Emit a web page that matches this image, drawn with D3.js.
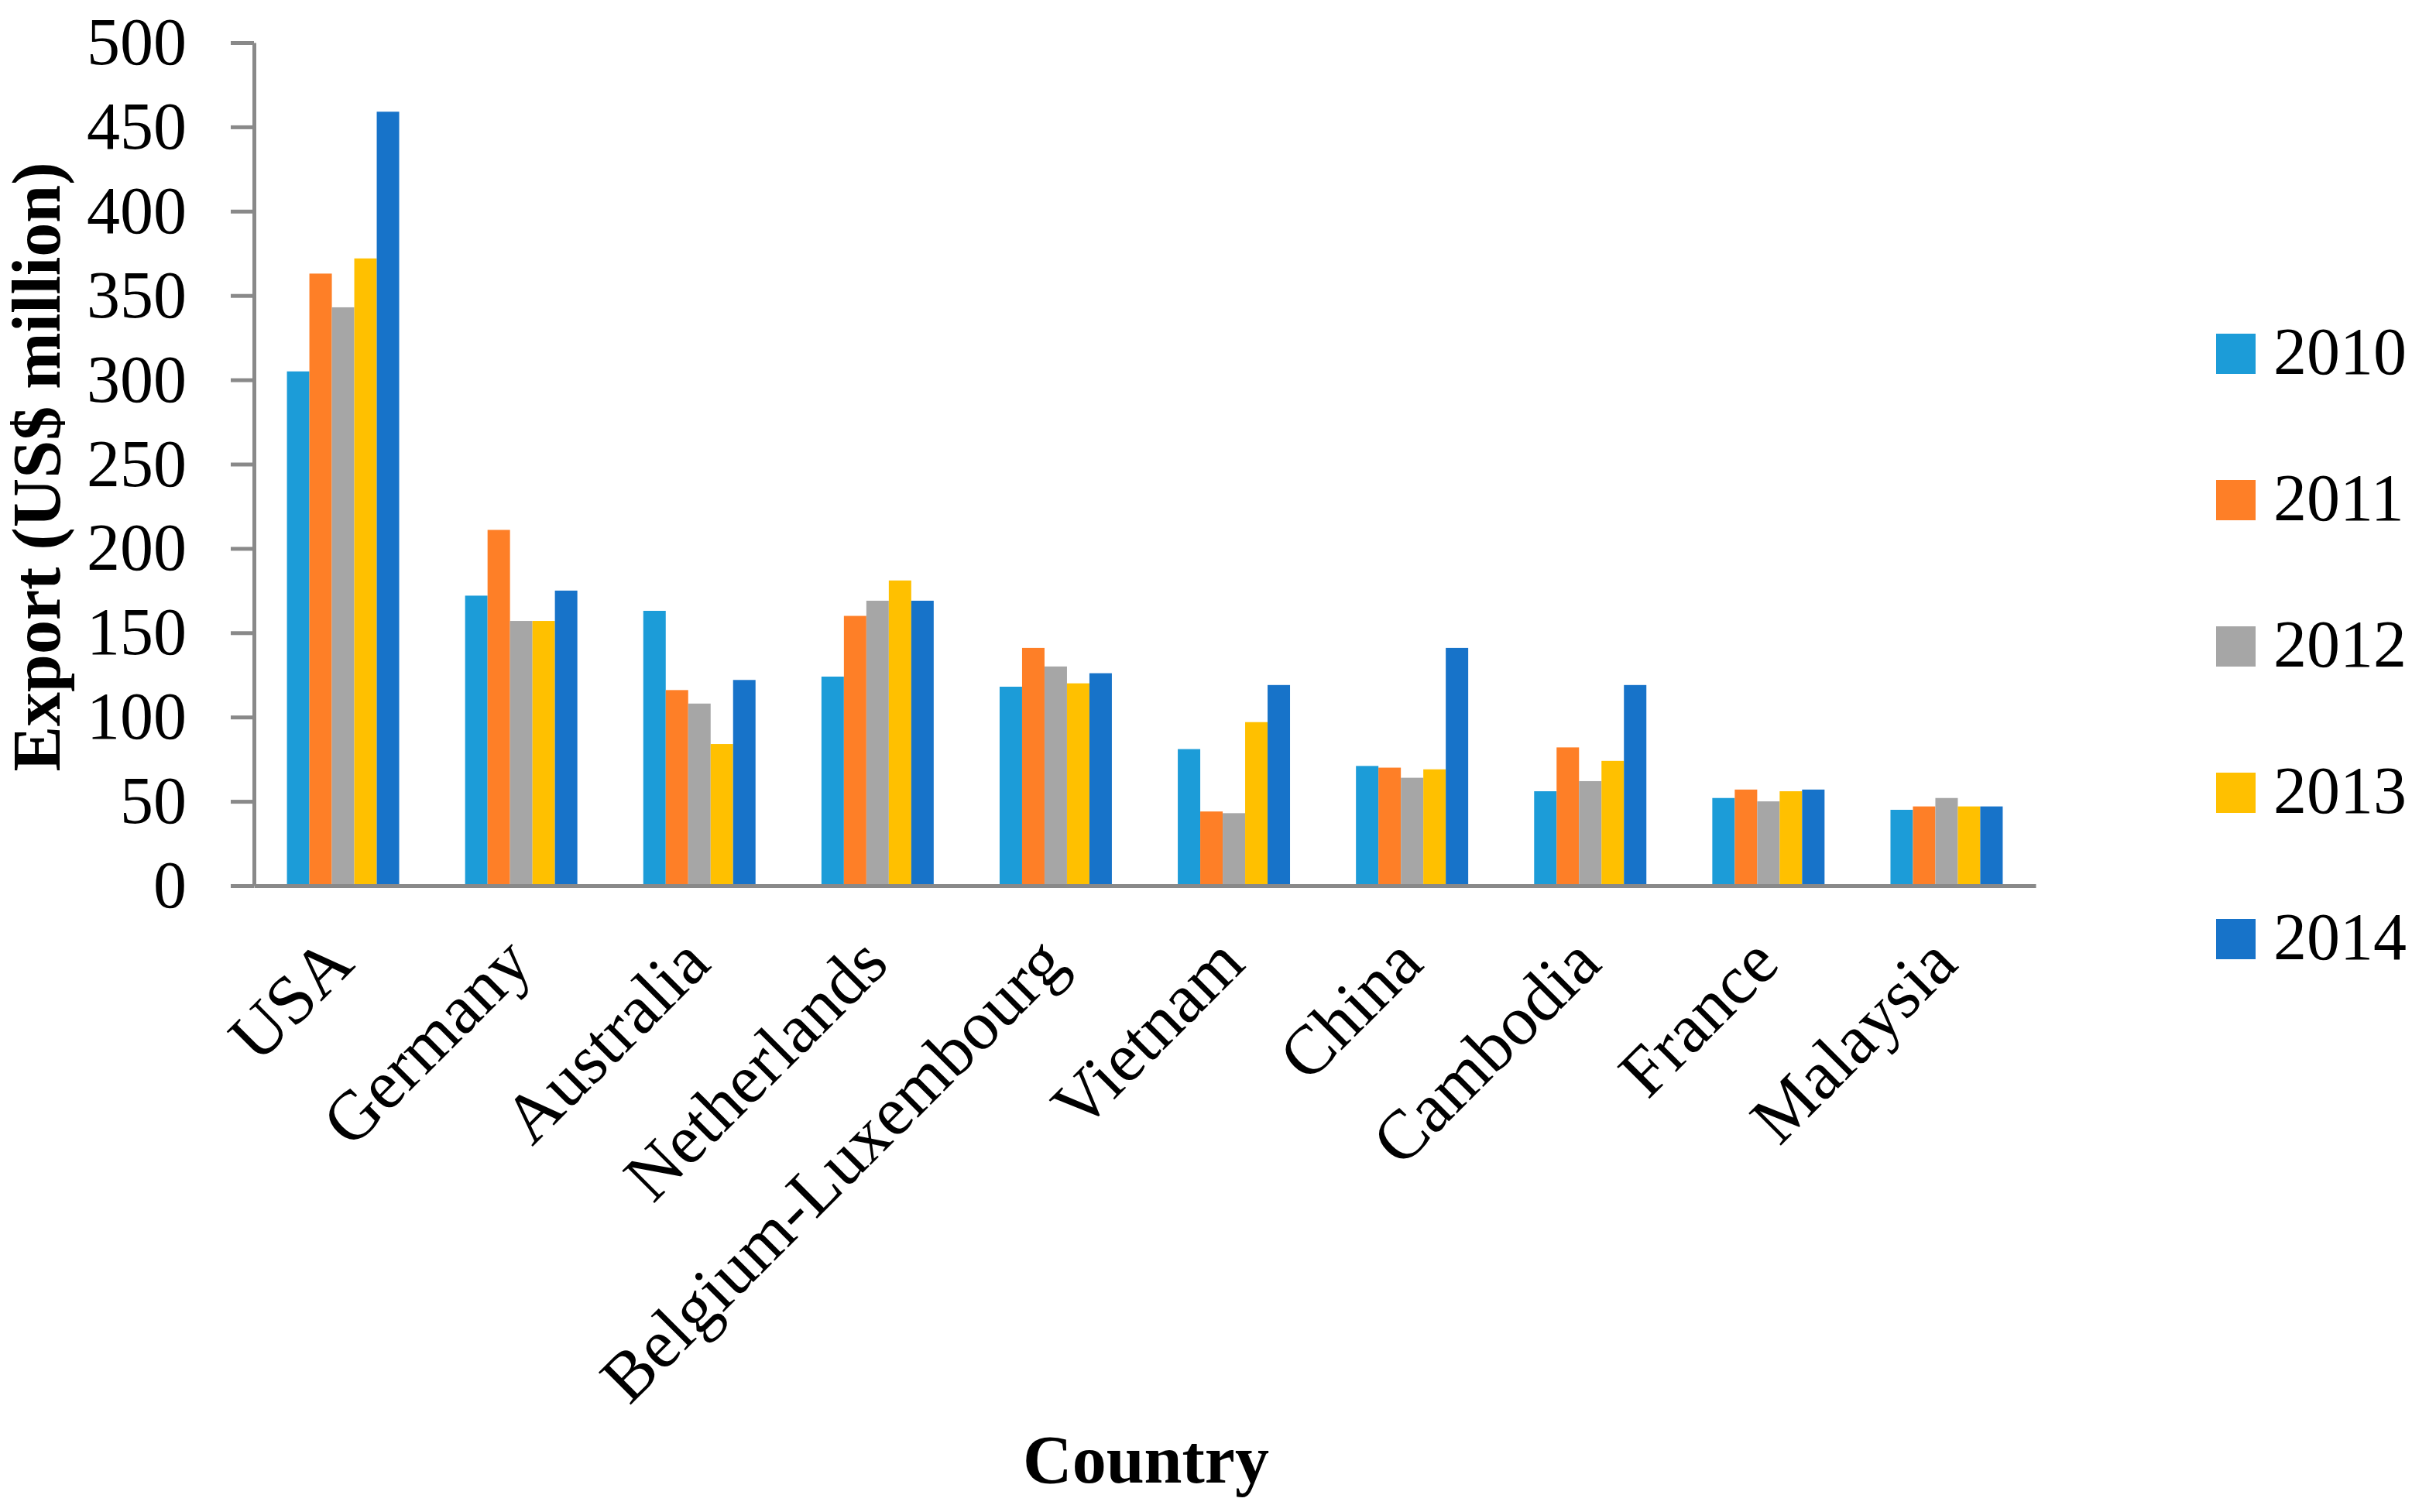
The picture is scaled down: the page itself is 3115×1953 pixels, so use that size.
<!doctype html>
<html>
  <head>
    <title>Export by country</title>
    <script src="https://d3js.org/d3.v7.min.js"></script>
    <style>
      body { margin: 0; background: #fff; }
      svg { display: block; }
      text { font-family: "Liberation Serif", "Times New Roman", serif; fill: #000; }
    </style>
  </head>
  <body>
    <svg id="chart" width="3115" height="1953"></svg>
    <script>
      var countries = ['USA', 'Germany', 'Australia', 'Netherlands', 'Belgium-Luxembourg',
                       'Vietnam', 'China', 'Cambodia', 'France', 'Malaysia'];
      var years = ['2010', '2011', '2012', '2013', '2014'];
      var v2010 = [305, 172, 163, 124, 118, 81, 71, 56, 52, 45];
      var v2011 = [363, 211, 116, 160, 141, 44, 70, 82, 57, 47];
      var v2012 = [343, 157, 108, 169, 130, 43, 64, 62, 50, 52];
      var v2013 = [372, 157, 84, 181, 120, 97, 69, 74, 56, 47];
      var v2014 = [459, 175, 122, 169, 126, 119, 141, 119, 57, 47];
      var yTicks = [0, 50, 100, 150, 200, 250, 300, 350, 400, 450, 500];
      var colors = ['#1c9cd8', '#fe7f27', '#a6a6a6', '#ffc000', '#1773c9'];

      var series = [v2010, v2011, v2012, v2013, v2014];
      var rows = countries.map(function(c, i) {
        return { country: c, values: years.map(function(y, j) { return { year: y, value: series[j][i] }; }) };
      });

      var svg = d3.select('#chart');
      var axisColor = '#898989';

      var x0 = d3.scaleBand()
        .domain(countries)
        .range([328, 2629])
        .paddingInner(0.37)
        .paddingOuter(0.185);

      var x1 = d3.scaleBand()
        .domain(years)
        .range([0, x0.bandwidth()]);

      var yScale = d3.scaleLinear()
        .domain([0, 500])
        .range([1144, 55]);

      var color = d3.scaleOrdinal().domain(years).range(colors);

      // bars
      svg.append('g')
        .selectAll('g.group')
        .data(rows)
        .enter()
        .append('g')
          .attr('class', 'group')
          .attr('transform', d => `translate(${x0(d.country)},0)`)
        .selectAll('rect')
        .data(d => d.values)
        .enter()
        .append('rect')
          .attr('x', d => x1(d.year))
          .attr('width', x1.bandwidth())
          .attr('y', d => yScale(d.value))
          .attr('height', d => yScale(0) - yScale(d.value))
          .style('fill', d => color(d.year));

      // y axis
      var yAxis = d3.axisLeft()
        .scale(yScale)
        .tickValues(yTicks)
        .tickSizeInner(30)
        .tickSizeOuter(0)
        .tickPadding(57);

      var yG = svg.append('g')
        .attr('id', 'yAxisG')
        .attr('transform', 'translate(328,0)')
        .call(yAxis);
      yG.select('.domain').style('stroke', axisColor).style('stroke-width', '5px');
      yG.selectAll('.tick line').style('stroke', axisColor).style('stroke-width', '5px');
      yG.selectAll('.tick text')
        .style('font-family', '"Liberation Serif", serif')
        .style('font-size', '86px')
        .style('fill', '#000');

      // x axis
      var xAxis = d3.axisBottom()
        .scale(x0)
        .tickSize(0)
        .tickSizeOuter(0);

      var xG = svg.append('g')
        .attr('id', 'xAxisG')
        .attr('transform', 'translate(0,1144)')
        .call(xAxis);
      xG.select('.domain').style('stroke', axisColor).style('stroke-width', '5px');
      xG.selectAll('.tick text')
        .style('font-family', '"Liberation Serif", serif')
        .style('font-size', '90px')
        .style('fill', '#000')
        .attr('text-anchor', 'end')
        .attr('dy', '0.35em')
        .attr('y', 0)
        .attr('transform', 'translate(-5,82) rotate(-45)');

      // axis titles
      svg.append('text')
        .attr('transform', 'translate(77,603) rotate(-90)')
        .attr('text-anchor', 'middle')
        .style('font-size', '88px')
        .style('font-weight', 'bold')
        .text('Export (US$ million)');

      svg.append('text')
        .attr('x', 1480)
        .attr('y', 1915)
        .attr('text-anchor', 'middle')
        .style('font-size', '88px')
        .style('font-weight', 'bold')
        .text('Country');

      // legend
      var legend = svg.append('g')
        .selectAll('g.legend')
        .data(years)
        .enter()
        .append('g')
          .attr('class', 'legend')
          .attr('transform', (d, i) => `translate(2862,${431 + i * 189})`);

      legend.append('rect')
        .attr('width', 51)
        .attr('height', 52)
        .style('fill', d => color(d));

      legend.append('text')
        .attr('x', 74)
        .attr('y', 52)
        .style('font-size', '86px')
        .text(d => d);
    </script>
  </body>
</html>
